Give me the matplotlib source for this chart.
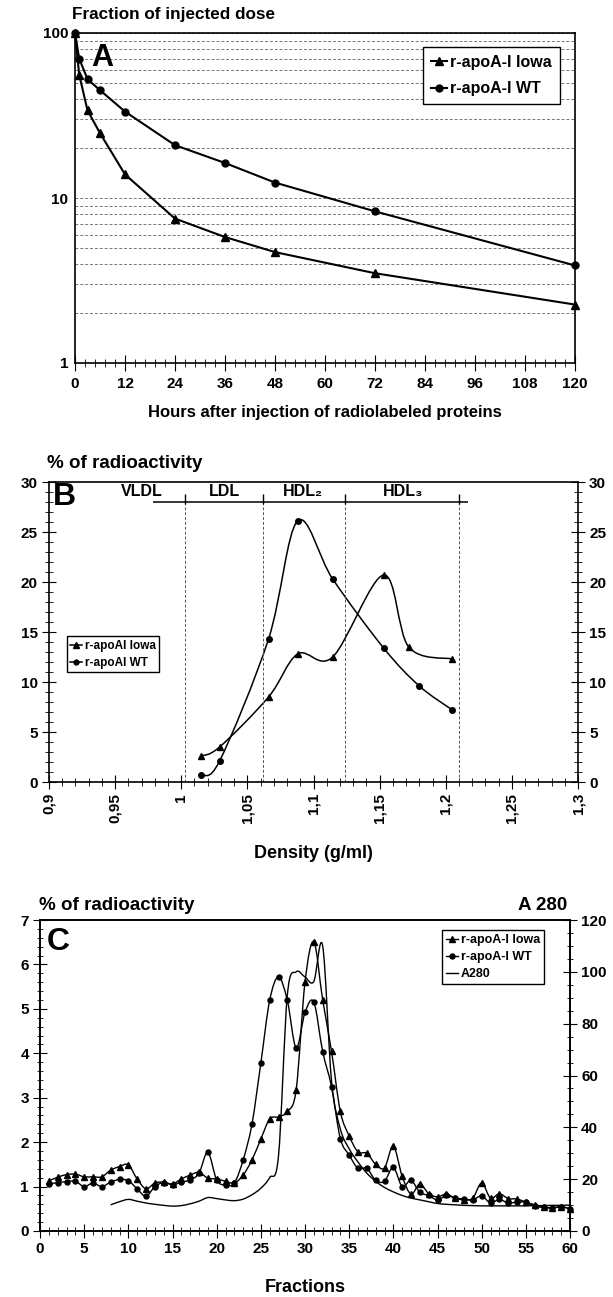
import matplotlib
matplotlib.use('Agg')
import matplotlib.pyplot as plt
from matplotlib.path import Path
from matplotlib.patches import PathPatch
from matplotlib.lines import Line2D
from matplotlib.ticker import MultipleLocator, FixedLocator, NullFormatter, LogLocator, FuncFormatter
import numpy as np

plt.rcParams['font.family'] = ['Liberation Sans', 'DejaVu Sans']
plt.rcParams['font.weight'] = 'bold'
plt.rcParams['axes.labelweight'] = 'bold'

# ---------------- data ----------------
# Panel A
hours = [0, 1, 3, 6, 12, 24, 36, 48, 72, 120]
iowa_A = [100, 56, 34, 24.7, 13.9, 7.5, 5.8, 4.7, 3.5, 2.26]
wt_A = [100, 70, 52.5, 45, 33.4, 20.9, 16.3, 12.4, 8.3, 3.9]
hour_ticks = [0, 12, 24, 36, 48, 60, 72, 84, 96, 108, 120]

# Panel B
dens_iowa = [1.015, 1.029, 1.066, 1.088, 1.1145, 1.153, 1.172, 1.205]
iowa_B = [2.6, 3.5, 8.5, 12.8, 12.5, 20.7, 13.5, 12.3]
dens_wt = [1.015, 1.029, 1.066, 1.088, 1.1145, 1.153, 1.180, 1.205]
wt_B = [0.7, 2.1, 14.3, 26.1, 20.3, 13.4, 9.6, 7.2]
class_bounds = [1.003, 1.062, 1.124, 1.21]
class_names = ['VLDL', 'LDL', 'HDL₂', 'HDL₃']
class_centers = [0.970, 1.033, 1.092, 1.168]

# Panel C
fractions = list(range(1, 61))
iowa_C = [1.13, 1.21, 1.27, 1.28, 1.22, 1.22, 1.22, 1.37, 1.45, 1.49,
          1.17, 0.95, 1.08, 1.10, 1.06, 1.17, 1.26, 1.32, 1.19, 1.17,
          1.12, 1.08, 1.26, 1.60, 2.07, 2.52, 2.57, 2.69, 3.18, 5.60,
          6.51, 5.20, 4.05, 2.69, 2.14, 1.78, 1.75, 1.50, 1.42, 1.91,
          1.23, 0.83, 1.06, 0.84, 0.77, 0.83, 0.74, 0.70, 0.74, 1.08,
          0.74, 0.84, 0.73, 0.72, 0.65, 0.59, 0.54, 0.52, 0.54, 0.50]
wt_C = [1.06, 1.09, 1.11, 1.12, 1.00, 1.08, 1.00, 1.10, 1.16, 1.13,
        0.95, 0.78, 1.00, 1.09, 1.04, 1.10, 1.15, 1.30, 1.77, 1.15,
        1.03, 1.08, 1.60, 2.41, 3.78, 5.19, 5.72, 5.19, 4.12, 4.92,
        5.15, 4.04, 3.25, 2.08, 1.71, 1.41, 1.41, 1.14, 1.12, 1.43,
        1.00, 1.14, 0.87, 0.80, 0.70, 0.80, 0.74, 0.72, 0.70, 0.79,
        0.63, 0.71, 0.63, 0.65, 0.65, 0.56, 0.53, 0.52, 0.55, 0.50]
a280_fr = list(range(8, 61))
a280 = [10.1, 11.3, 12.2, 11.5, 10.8, 10.3, 9.9, 9.6, 9.8, 10.5,
        11.5, 12.9, 12.5, 12.0, 11.7, 12.3, 14.0, 16.5, 20.6, 29.0,
        91.0, 100.0, 98.0, 96.3, 110.0, 58.0, 39.4, 31.7, 26.6, 22.3,
        19.2, 16.8, 15.1, 13.7, 12.7, 12.0, 11.3, 10.6, 10.3, 10.1,
        9.9, 9.8, 9.7, 9.7, 9.7, 9.7, 9.7, 9.7, 9.8, 9.8,
        9.9, 9.9, 10.0]

# ---------------- helpers ----------------
W, H = 613, 1297
fig = plt.figure(figsize=(W / 100, H / 100), dpi=100)


def ax_rect(l, t, r, b):
    return [l / W, 1 - b / H, (r - l) / W, (b - t) / H]


def smooth_path(x, y):
    x = np.asarray(x, float)
    y = np.asarray(y, float)
    n = len(x)
    verts = [(x[0], y[0])]
    codes = [Path.MOVETO]
    for i in range(n - 1):
        xp, yp = (x[i - 1], y[i - 1]) if i > 0 else (x[i], y[i])
        xn, yn = (x[i + 2], y[i + 2]) if i + 2 < n else (x[i + 1], y[i + 1])
        c1 = (x[i] + (x[i + 1] - xp) / 6, y[i] + (y[i + 1] - yp) / 6)
        c2 = (x[i + 1] - (xn - x[i]) / 6, y[i + 1] - (yn - y[i]) / 6)
        verts += [c1, c2, (x[i + 1], y[i + 1])]
        codes += [Path.CURVE4] * 3
    return Path(verts, codes)


def smooth_line(ax, x, y, lw=1.1):
    ax.add_patch(PathPatch(smooth_path(x, y), fill=False, ec='black', lw=lw, clip_on=False))


TICK_FS = 11
LBL_FS = 12.5

# ---------------- Panel A ----------------
axA = fig.add_axes(ax_rect(75, 33, 575, 363))
axA.set_yscale('log')
axA.set_xlim(0, 120)
axA.set_ylim(1, 100)
axA.yaxis.set_major_locator(FixedLocator([1, 10, 100]))
axA.yaxis.set_major_formatter(FuncFormatter(lambda v, p: f'{v:g}'))
axA.yaxis.set_minor_locator(LogLocator(base=10, subs=range(2, 10)))
axA.yaxis.set_minor_formatter(NullFormatter())
axA.grid(True, which='both', axis='y', ls=(0, (3, 2)), color='#777777', lw=0.7)
axA.tick_params(axis='y', which='both', length=0, labelsize=TICK_FS, pad=5)
axA.xaxis.set_major_locator(FixedLocator(hour_ticks))
axA.xaxis.set_minor_locator(MultipleLocator(2.4))
axA.tick_params(axis='x', which='major', direction='inout', length=12, labelsize=TICK_FS, pad=4)
axA.tick_params(axis='x', which='minor', direction='inout', length=6)
lA1, = axA.plot(hours, iowa_A, color='k', lw=1.5, marker='^', ms=6, clip_on=False, zorder=3)
lA2, = axA.plot(hours, wt_A, color='k', lw=1.5, marker='o', ms=5, clip_on=False, zorder=3)
for s in axA.spines.values():
    s.set_linewidth(1.2)
legA = axA.legend([lA1, lA2], ['r-apoA-I lowa', 'r-apoA-I WT'], loc='upper right',
                  bbox_to_anchor=(0.986, 0.982), fontsize=11.5, frameon=True, fancybox=False,
                  edgecolor='black', framealpha=1, handlelength=1.0, handletextpad=0.2,
                  labelspacing=0.7, borderpad=0.5)
legA.get_frame().set_linewidth(1.0)
axA.text(0.055, 0.925, 'A', transform=axA.transAxes, fontsize=22, fontweight='bold',
         ha='center', va='center')
fig.text(72 / W, 1 - 15 / H, 'Fraction of injected dose', fontsize=12.3, ha='left', va='center')
fig.text(325 / W, 1 - 413 / H, 'Hours after injection of radiolabeled proteins',
         fontsize=12, ha='center', va='center')

# ---------------- Panel B ----------------
axB = fig.add_axes(ax_rect(49, 482, 578, 782))
axB.set_xlim(0.9, 1.3)
axB.set_ylim(0, 30)
axB.xaxis.set_major_locator(MultipleLocator(0.05))
axB.xaxis.set_minor_locator(MultipleLocator(0.01))
axB.xaxis.set_major_formatter(FuncFormatter(lambda v, p: f'{round(v, 2):g}'.replace('.', ',')))
axB.yaxis.set_major_locator(MultipleLocator(5))
axB.yaxis.set_minor_locator(MultipleLocator(1))
axB.tick_params(axis='x', which='major', direction='inout', length=10, labelsize=TICK_FS,
                labelrotation=90, pad=3)
axB.tick_params(axis='x', which='minor', direction='inout', length=6)
axB.tick_params(axis='y', which='major', direction='inout', length=10, labelsize=TICK_FS,
                right=True, labelright=True, left=True, pad=3)
axB.tick_params(axis='y', which='minor', direction='inout', length=6, right=True, left=True)
for s in axB.spines.values():
    s.set_linewidth(1.2)
axB.vlines(class_bounds, 0, 28, colors='#555555', linestyles=(0, (3, 2)), lw=0.7)
axB.hlines(28, 0.979, 1.217, colors='k', lw=1.1)
axB.vlines(class_bounds, 27.8, 28.8, colors='k', lw=1.0)
for name, cx in zip(class_names, class_centers):
    axB.text(cx, 29.0, name, fontsize=11.5, ha='center', va='center')
axB.text(0.912, 28.5, 'B', fontsize=23, ha='center', va='center')
smooth_line(axB, dens_iowa, iowa_B)
smooth_line(axB, dens_wt, wt_B)
axB.plot(dens_iowa, iowa_B, ls='none', marker='^', ms=5, color='k')
axB.plot(dens_wt, wt_B, ls='none', marker='o', ms=4, color='k')
hB = [Line2D([], [], color='k', lw=1.1, marker='^', ms=4.5),
      Line2D([], [], color='k', lw=1.1, marker='o', ms=3.5)]
legB = axB.legend(hB, ['r-apoAI lowa', 'r-apoAI WT'], loc='upper left',
                  bbox_to_anchor=(0.0225, 0.505), fontsize=8.5, frameon=True, fancybox=False,
                  edgecolor='black', framealpha=1, handlelength=1.0, handletextpad=0.2,
                  labelspacing=0.4, borderpad=0.3)
legB.get_frame().set_linewidth(1.0)
fig.text(47 / W, 1 - 463 / H, '% of radioactivity', fontsize=13.5, ha='left', va='center')
fig.text(313 / W, 1 - 853 / H, 'Density (g/ml)', fontsize=13, ha='center', va='center')

# ---------------- Panel C ----------------
axC = fig.add_axes(ax_rect(40, 920, 570, 1231))
axC.set_xlim(0, 60)
axC.set_ylim(0, 7)
axC.xaxis.set_major_locator(MultipleLocator(5))
axC.xaxis.set_minor_locator(MultipleLocator(1))
axC.yaxis.set_major_locator(MultipleLocator(1))
axC.yaxis.set_minor_locator(MultipleLocator(0.2))
axC.tick_params(axis='x', which='major', direction='inout', length=10, labelsize=TICK_FS, pad=3)
axC.tick_params(axis='x', which='minor', direction='inout', length=6)
axC.tick_params(axis='y', which='major', direction='inout', length=10, labelsize=TICK_FS, pad=3)
axC.tick_params(axis='y', which='minor', direction='inout', length=5)
axC2 = axC.twinx()
axC2.set_ylim(0, 120)
axC2.yaxis.set_major_locator(MultipleLocator(20))
axC2.yaxis.set_minor_locator(MultipleLocator(5))
axC2.tick_params(axis='y', which='major', direction='inout', length=10, labelsize=TICK_FS, pad=3)
axC2.tick_params(axis='y', which='minor', direction='inout', length=5)
for a in (axC, axC2):
    for s in a.spines.values():
        s.set_linewidth(1.2)
smooth_line(axC, fractions, iowa_C, lw=1.0)
smooth_line(axC, fractions, wt_C, lw=1.0)
smooth_line(axC2, a280_fr, a280, lw=1.0)
axC.plot(fractions, iowa_C, ls='none', marker='^', ms=4.2, color='k', clip_on=False)
axC.plot(fractions, wt_C, ls='none', marker='o', ms=3.6, color='k', clip_on=False)
hC = [Line2D([], [], color='k', lw=1.0, marker='^', ms=4.2),
      Line2D([], [], color='k', lw=1.0, marker='o', ms=3.6),
      Line2D([], [], color='k', lw=1.0)]
legC = axC2.legend(hC, ['r-apoA-I lowa', 'r-apoA-I WT', 'A280'], loc='upper left',
                   bbox_to_anchor=(0.747, 0.987), fontsize=9, frameon=True, fancybox=False,
                   edgecolor='black', framealpha=1, handlelength=1.0, handletextpad=0.2,
                   labelspacing=0.4, borderpad=0.3)
legC.get_frame().set_linewidth(1.0)
axC.text(0.035, 0.93, 'C', transform=axC.transAxes, fontsize=23, ha='center', va='center')
fig.text(39 / W, 1 - 905 / H, '% of radioactivity', fontsize=13.5, ha='left', va='center')
fig.text(567 / W, 1 - 905 / H, 'A 280', fontsize=13.5, ha='right', va='center')
fig.text(305 / W, 1 - 1287 / H, 'Fractions', fontsize=13, ha='center', va='center')

fig.savefig('out.png', dpi=100)
